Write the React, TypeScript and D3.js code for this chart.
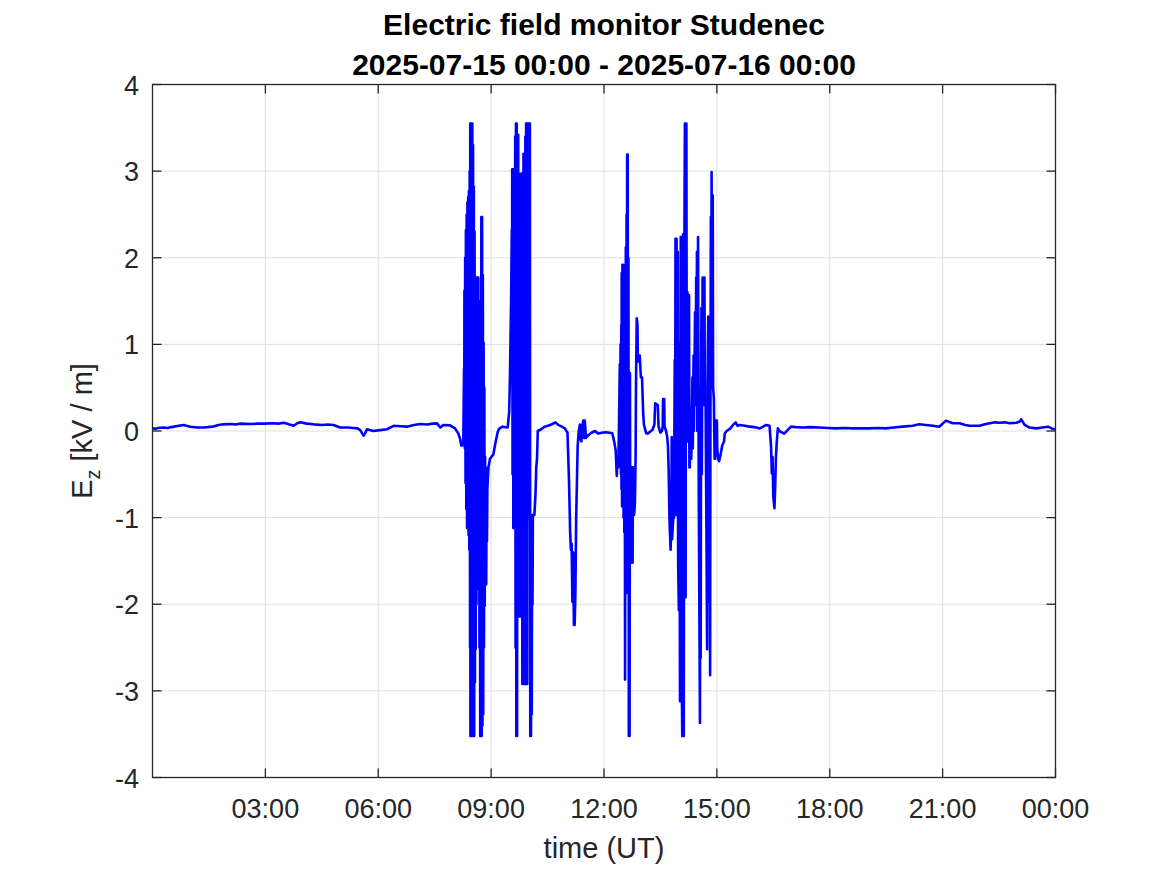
import React from "react";
import * as d3 from "d3";

// Time in hours since 2025-07-15 00:00 UT, Ez in kV/m
const quietMorning: [number, number][] = [
  [0, 0.03], [0.08, 0.025], [0.15, 0.035], [0.3, 0.04], [0.4, 0.035], [0.5, 0.045], [0.7, 0.06], [0.83, 0.07],
  [0.9, 0.06], [1.0, 0.05], [1.2, 0.04], [1.36, 0.04], [1.6, 0.05], [1.75, 0.07], [1.89, 0.077], [2.1, 0.08],
  [2.2, 0.075], [2.34, 0.085], [2.6, 0.08], [2.8, 0.085], [2.98, 0.085], [3.2, 0.09], [3.35, 0.085], [3.49, 0.096],
  [3.6, 0.08], [3.75, 0.06], [3.85, 0.09], [3.93, 0.1], [4.1, 0.085], [4.28, 0.077], [4.5, 0.07], [4.65, 0.075],
  [4.81, 0.07], [4.99, 0.04], [5.2, 0.04], [5.34, 0.035], [5.45, 0.03], [5.52, 0.01], [5.61, -0.054], [5.66, -0.02],
  [5.7, 0.02], [5.87, 0.0], [6.05, 0.01], [6.23, 0.02], [6.41, 0.06], [6.6, 0.055], [6.76, 0.05], [6.95, 0.07],
  [7.11, 0.08], [7.3, 0.075], [7.45, 0.085], [7.56, 0.088], [7.65, 0.04], [7.73, 0.07], [7.91, 0.065], [8.04, 0.03],
  [8.13, -0.03], [8.18, -0.1], [8.21, -0.17], [8.24, -0.15],
];

const burst1: [number, number][] = [
  [8.26, -0.15], [8.28, 0.72], [8.285, -0.17], [8.29, 1.62], [8.3, -0.2], [8.31, 2.0], [8.32, -0.6], [8.33, 2.32],
  [8.34, -0.9], [8.35, 2.5], [8.36, -1.12], [8.37, 2.64], [8.38, -1.12], [8.39, 2.7], [8.4, -1.2], [8.41, 2.77],
  [8.42, -1.37], [8.43, 3.0], [8.44, -2.5], [8.445, 3.55], [8.45, -3.52], [8.46, 3.55], [8.47, -3.52], [8.48, 3.55],
  [8.49, -3.52], [8.5, 3.55], [8.51, -3.52], [8.52, 3.3], [8.53, -3.52], [8.54, 2.82], [8.55, -3.52], [8.56, 2.3],
  [8.57, -2.9], [8.58, 1.52], [8.59, -2.52], [8.6, 1.7], [8.61, -2.0], [8.62, 1.77], [8.63, -1.82], [8.64, 1.77],
  [8.65, -1.82], [8.66, 1.77], [8.67, -1.82], [8.68, 1.0], [8.69, -2.5], [8.7, 1.0], [8.71, -3.52], [8.72, 1.5],
  [8.73, -3.52], [8.74, 2.47], [8.75, -3.52], [8.76, 2.47], [8.77, -3.4], [8.78, 1.8], [8.79, -3.27], [8.8, 1.02],
  [8.81, -2.5], [8.82, 0.5], [8.83, -2.02], [8.84, -0.3], [8.85, -1.77], [8.86, -0.42], [8.87, -1.77], [8.88, -0.5],
  [8.89, -1.27], [8.9, -0.67], [8.93, -0.42], [8.97, -0.32], [9.06, -0.27], [9.1, -0.17], [9.17, -0.02],
  [9.21, 0.025], [9.3, 0.05], [9.44, 0.04],
];

const burst2: [number, number][] = [
  [9.48, 0.22], [9.5, 0.62], [9.53, 1.47], [9.55, 2.32], [9.555, 0.6], [9.56, 3.02], [9.57, -0.5], [9.58, 3.02],
  [9.59, -1.12], [9.6, 3.02], [9.61, -1.12], [9.62, 3.02], [9.63, -1.12], [9.64, 3.4], [9.65, -2.5], [9.66, 3.55],
  [9.67, -3.52], [9.68, 3.55], [9.69, -3.52], [9.7, 3.42], [9.71, -1.02], [9.72, 3.42], [9.73, -1.87], [9.74, 2.5],
  [9.75, -2.14], [9.76, 2.0], [9.77, -2.14], [9.78, 2.97], [9.79, -2.14], [9.8, 2.97], [9.81, -2.14], [9.82, 2.97],
  [9.83, -2.92], [9.84, 2.97], [9.85, -2.92], [9.86, 3.2], [9.87, -2.92], [9.88, 2.97], [9.89, -2.92], [9.91, 3.4],
  [9.92, -2.92], [9.93, 3.55], [9.94, -2.92], [9.95, 3.55], [9.96, -2.92], [9.97, 3.55], [9.98, -1.0], [9.99, 3.55],
  [10.0, 0.42], [10.01, 3.55], [10.02, 0.42], [10.03, 3.55], [10.04, -3.52], [10.05, -0.97], [10.06, -3.52],
  [10.07, -0.97], [10.08, -3.27], [10.09, -0.97], [10.1, -2.0], [10.11, -0.97], [10.13, -0.97], [10.15, -0.97],
  [10.18, -0.72], [10.2, -0.42], [10.22, -0.32], [10.24, 0.0],
];

const midday: [number, number][] = [
  [10.33, 0.02], [10.42, 0.05], [10.51, 0.06], [10.6, 0.075], [10.71, 0.1], [10.78, 0.07], [10.88, 0.05],
  [10.96, 0.03], [11.03, -0.02], [11.04, -0.17], [11.07, -0.57], [11.1, -1.17], [11.12, -1.37], [11.14, -1.3],
  [11.16, -1.97], [11.18, -1.4], [11.2, -2.24], [11.22, -2.24], [11.24, -1.87], [11.26, -1.02], [11.28, -0.6],
  [11.3, -0.17], [11.33, 0.0], [11.36, 0.075], [11.38, -0.1], [11.4, -0.12], [11.42, 0.05], [11.45, 0.12],
  [11.47, -0.08], [11.49, 0.12], [11.52, -0.08], [11.58, -0.05], [11.67, -0.02], [11.76, 0.0], [11.85, -0.03],
  [11.94, -0.02], [12.05, -0.015], [12.15, -0.02], [12.22, -0.025],
];

const burst3: [number, number][] = [
  [12.27, -0.12], [12.31, -0.22], [12.34, -0.52], [12.36, -0.3], [12.38, -0.42], [12.4, 0.12], [12.42, 0.77],
  [12.43, -0.3], [12.44, 1.0], [12.45, -0.5], [12.46, 1.22], [12.465, -0.67], [12.47, 1.82], [12.48, -0.87],
  [12.49, 1.92], [12.5, -0.87], [12.51, 1.92], [12.52, -1.0], [12.53, 1.82], [12.54, -1.17], [12.55, 1.82],
  [12.56, -2.87], [12.57, 0.5], [12.58, 2.12], [12.59, -1.87], [12.6, 2.5], [12.61, -1.87], [12.615, 3.19],
  [12.62, -1.87], [12.63, 3.19], [12.64, -1.87], [12.65, 2.0], [12.66, -3.52], [12.67, 0.67], [12.68, -3.52],
  [12.69, 0.67], [12.7, -1.52], [12.71, -0.42], [12.72, -1.52], [12.73, -0.42], [12.74, -1.52], [12.75, -0.42],
  [12.76, -1.52], [12.77, -0.42], [12.78, -0.97], [12.79, -0.42], [12.8, -0.97], [12.82, -0.85], [12.84, -0.32],
  [12.85, 0.5], [12.87, 1.3], [12.89, 1.22], [12.9, 0.8], [12.92, 0.87], [12.95, 0.87], [12.98, 0.62], [13.01, 0.62],
  [13.04, 0.22], [13.06, 0.075], [13.12, -0.025], [13.16, -0.03], [13.25, 0.0], [13.29, 0.015], [13.34, 0.075],
  [13.36, 0.32], [13.43, 0.3], [13.45, 0.05], [13.5, -0.02], [13.54, 0.0], [13.56, 0.05], [13.57, 0.37],
  [13.6, 0.37], [13.61, 0.05], [13.65, 0.0],
];

const burst4: [number, number][] = [
  [13.68, -0.07], [13.7, -0.17], [13.72, -0.47], [13.74, -1.02], [13.77, -1.37], [13.79, -1.0], [13.8, -0.07],
  [13.81, -1.25], [13.84, -1.0], [13.86, -1.0], [13.88, 0.82], [13.89, -0.5], [13.9, 2.22], [13.91, -0.97],
  [13.93, 2.22], [13.95, -0.97], [13.96, 2.07], [13.97, -1.5], [13.99, -2.07], [14.0, 1.0], [14.02, -3.12],
  [14.04, 2.24], [14.06, -2.5], [14.08, -3.52], [14.09, 1.0], [14.1, 2.27], [14.11, -3.52], [14.12, -3.52],
  [14.13, 1.5], [14.15, 3.55], [14.16, -1.92], [14.17, -1.92], [14.18, 3.55], [14.19, 3.55], [14.2, 0.0],
  [14.22, 1.6], [14.23, -0.12], [14.24, -0.12], [14.25, 1.57], [14.26, 1.57], [14.27, -0.42], [14.28, -0.42],
  [14.3, 0.27], [14.32, -0.32], [14.35, 0.62], [14.36, -0.2], [14.38, 0.87], [14.39, 0.0], [14.42, 1.37],
  [14.43, 0.3], [14.45, 1.77], [14.46, 0.5], [14.47, 2.07], [14.48, 0.0], [14.5, 2.24], [14.51, 0.5],
  [14.52, -0.82], [14.54, -2.5], [14.55, -3.37], [14.56, -1.0], [14.57, -2.62], [14.58, 0.5], [14.59, 1.42],
  [14.6, -0.5], [14.62, 1.77], [14.63, 0.3], [14.65, 0.82], [14.66, 0.3], [14.67, 1.77], [14.68, 0.3],
  [14.7, 0.37], [14.72, -1.0], [14.73, -1.67], [14.74, -2.52], [14.75, 0.5], [14.77, 1.32], [14.78, -0.5],
  [14.8, -1.97], [14.81, -1.0], [14.82, -2.82], [14.83, 0.5], [14.84, 2.47], [14.85, 0.8], [14.86, 2.99],
  [14.87, 0.5], [14.89, 2.72], [14.9, 0.5], [14.92, 0.37], [14.94, -0.32], [14.95, -0.32], [14.97, 0.12],
  [15.0, 0.12], [15.01, -0.2], [15.03, -0.32], [15.06, -0.35], [15.1, -0.27], [15.14, -0.17], [15.19, -0.12],
  [15.21, -0.03], [15.26, 0.0], [15.36, 0.03], [15.43, 0.07], [15.5, 0.1], [15.55, 0.06],
];

const quietEvening: [number, number][] = [
  [15.61, 0.07], [15.75, 0.06], [15.87, 0.05], [16.0, 0.045], [16.14, 0.03], [16.31, 0.07], [16.4, 0.06],
  [16.44, -0.18], [16.46, -0.49], [16.48, -0.3], [16.5, -0.76], [16.53, -0.89], [16.55, -0.64], [16.57, -0.3],
  [16.59, -0.14], [16.62, 0.03], [16.66, 0.0], [16.7, -0.01], [16.79, -0.03], [16.88, 0.01], [16.97, 0.05],
  [17.1, 0.045], [17.28, 0.04], [17.5, 0.045], [17.72, 0.04], [17.95, 0.035], [18.17, 0.03], [18.4, 0.035],
  [18.61, 0.03], [18.85, 0.03], [19.05, 0.03], [19.3, 0.035], [19.49, 0.03], [19.7, 0.04], [19.94, 0.05],
  [20.2, 0.06], [20.38, 0.077], [20.55, 0.07], [20.74, 0.06], [20.91, 0.05], [21.09, 0.12], [21.2, 0.1],
  [21.27, 0.09], [21.45, 0.09], [21.6, 0.07], [21.71, 0.06], [21.98, 0.06], [22.1, 0.075], [22.25, 0.09],
  [22.4, 0.1], [22.51, 0.096], [22.65, 0.1], [22.78, 0.09], [22.96, 0.096], [23.05, 0.11], [23.09, 0.135],
  [23.18, 0.07], [23.31, 0.04], [23.49, 0.03], [23.65, 0.04], [23.8, 0.05], [23.9, 0.03], [23.97, 0.02],
  [24.0, 0.02],
];

const xTickHours = [3, 6, 9, 12, 15, 18, 21, 24];
const xTickLabels = ["03:00", "06:00", "09:00", "12:00", "15:00", "18:00", "21:00", "00:00"];
const yTicks = [-4, -3, -2, -1, 0, 1, 2, 3, 4];

const W = 1167;
const H = 875;
const FONT = "'Liberation Sans', Arial, Helvetica, sans-serif";

export default function App() {
  const left = 152.5, right = 1055.5, top = 84.5, bottom = 777.5;
  const x = d3.scaleLinear().domain([0, 24]).range([left, right]);
  const y = d3.scaleLinear().domain([-4, 4]).range([bottom, top]);
  const series = [...quietMorning, ...burst1, ...burst2, ...midday, ...burst3, ...burst4, ...quietEvening];
  const line = d3.line<[number, number]>().x((d) => x(d[0])).y((d) => y(d[1]));
  const axisColor = "#262626";
  const gridColor = "#dfdfdf";
  const tickLen = 9;

  return (
    <svg width={W} height={H} style={{ position: "absolute", left: 0, top: 0, background: "#fff" }}>
      <rect x={0} y={0} width={W} height={H} fill="#fff" />
      {xTickHours.map((h) => (
        <line key={"gx" + h} x1={x(h)} x2={x(h)} y1={top} y2={bottom} stroke={gridColor} strokeWidth={1} />
      ))}
      {yTicks.map((v) => (
        <line key={"gy" + v} x1={left} x2={right} y1={y(v)} y2={y(v)} stroke={gridColor} strokeWidth={1} />
      ))}
      <path d={line(series) || ""} fill="none" stroke="#0000ff" strokeWidth={2.6} strokeLinejoin="round" />
      <rect x={left} y={top} width={right - left} height={bottom - top} fill="none" stroke={axisColor} strokeWidth={1.3} />
      {xTickHours.map((h) => (
        <g key={"tx" + h}>
          <line x1={x(h)} x2={x(h)} y1={bottom} y2={bottom - tickLen} stroke={axisColor} strokeWidth={1.3} />
          <line x1={x(h)} x2={x(h)} y1={top} y2={top + tickLen} stroke={axisColor} strokeWidth={1.3} />
        </g>
      ))}
      {yTicks.map((v) => (
        <g key={"ty" + v}>
          <line x1={left} x2={left + tickLen} y1={y(v)} y2={y(v)} stroke={axisColor} strokeWidth={1.3} />
          <line x1={right} x2={right - tickLen} y1={y(v)} y2={y(v)} stroke={axisColor} strokeWidth={1.3} />
        </g>
      ))}
      {xTickHours.map((h, i) => (
        <text key={"lx" + h} x={x(h)} y={818} textAnchor="middle" fontFamily={FONT} fontSize={27} fill={axisColor}>
          {xTickLabels[i]}
        </text>
      ))}
      {yTicks.map((v) => (
        <text key={"ly" + v} x={139} y={y(v) + 10} textAnchor="end" fontFamily={FONT} fontSize={27} fill={axisColor}>
          {String(v)}
        </text>
      ))}
      <text x={(left + right) / 2} y={858} textAnchor="middle" fontFamily={FONT} fontSize={29} fill={axisColor}>
        time (UT)
      </text>
      <text transform={`translate(92, ${(top + bottom) / 2}) rotate(-90)`} textAnchor="middle" fontFamily={FONT} fontSize={29} fill={axisColor}>
        E<tspan fontSize={20} dy={8}>z</tspan>
        <tspan dy={-8}> [kV / m]</tspan>
      </text>
      <text x={(left + right) / 2} y={35} textAnchor="middle" fontFamily={FONT} fontSize={30} fontWeight="bold" fill="#000">
        Electric field monitor Studenec
      </text>
      <text x={(left + right) / 2} y={75} textAnchor="middle" fontFamily={FONT} fontSize={30} fontWeight="bold" fill="#000">
        2025-07-15 00:00 - 2025-07-16 00:00
      </text>
    </svg>
  );
}
